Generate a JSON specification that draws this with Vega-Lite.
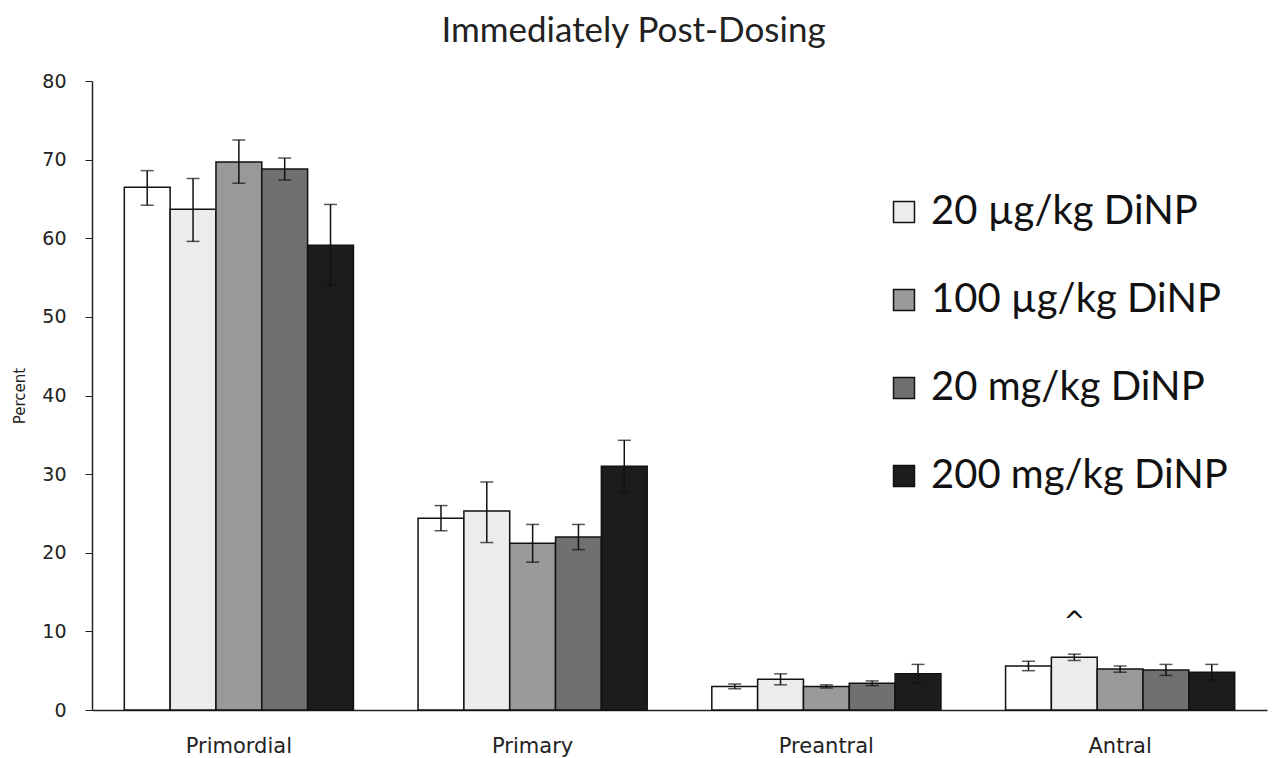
{
  "$schema": "https://vega.github.io/schema/vega-lite/v6.json",
  "width": 1175,
  "height": 629,
  "autosize": {"type": "none"},
  "padding": {"left": 92, "top": 81, "right": 5, "bottom": 48},
  "background": "white",
  "title": {"text": "Immediately Post-Dosing", "font": "Lato", "fontSize": 35, "fontWeight": "normal", "color": "#222", "anchor": "middle", "dx": -46, "offset": 23},
  "config": {"view": {"stroke": null}},
  "data": {"values": [
    {"category": "Primordial", "group": "Control", "value": 66.5, "low": 64.2, "high": 68.6},
    {"category": "Primordial", "group": "20 µg/kg DiNP", "value": 63.7, "low": 59.6, "high": 67.6},
    {"category": "Primordial", "group": "100 µg/kg DiNP", "value": 69.7, "low": 67.0, "high": 72.5},
    {"category": "Primordial", "group": "20 mg/kg DiNP", "value": 68.8, "low": 67.4, "high": 70.2},
    {"category": "Primordial", "group": "200 mg/kg DiNP", "value": 59.1, "low": 54.0, "high": 64.3},
    {"category": "Primary", "group": "Control", "value": 24.4, "low": 22.8, "high": 26.0},
    {"category": "Primary", "group": "20 µg/kg DiNP", "value": 25.3, "low": 21.3, "high": 29.0},
    {"category": "Primary", "group": "100 µg/kg DiNP", "value": 21.2, "low": 18.8, "high": 23.6},
    {"category": "Primary", "group": "20 mg/kg DiNP", "value": 22.0, "low": 20.4, "high": 23.6},
    {"category": "Primary", "group": "200 mg/kg DiNP", "value": 31.0, "low": 27.7, "high": 34.3},
    {"category": "Preantral", "group": "Control", "value": 3.0, "low": 2.7, "high": 3.3},
    {"category": "Preantral", "group": "20 µg/kg DiNP", "value": 3.9, "low": 3.2, "high": 4.6},
    {"category": "Preantral", "group": "100 µg/kg DiNP", "value": 3.0, "low": 2.8, "high": 3.2},
    {"category": "Preantral", "group": "20 mg/kg DiNP", "value": 3.4, "low": 3.1, "high": 3.7},
    {"category": "Preantral", "group": "200 mg/kg DiNP", "value": 4.6, "low": 3.4, "high": 5.8},
    {"category": "Antral", "group": "Control", "value": 5.6, "low": 5.0, "high": 6.2},
    {"category": "Antral", "group": "20 µg/kg DiNP", "value": 6.7, "low": 6.3, "high": 7.1},
    {"category": "Antral", "group": "100 µg/kg DiNP", "value": 5.2, "low": 4.8, "high": 5.6},
    {"category": "Antral", "group": "20 mg/kg DiNP", "value": 5.1, "low": 4.4, "high": 5.8},
    {"category": "Antral", "group": "200 mg/kg DiNP", "value": 4.8, "low": 3.8, "high": 5.8}
  ]},
  "encoding": {
    "x": {"field": "category", "type": "nominal", "sort": ["Primordial", "Primary", "Preantral", "Antral"],
      "scale": {"paddingInner": 0.22, "paddingOuter": 0.11},
      "axis": {"title": null, "labelAngle": 0, "ticks": false, "labelFont": "DejaVu Sans", "labelFontSize": 21, "labelColor": "#222", "labelPadding": 25, "domainColor": "#222", "domainWidth": 1.5}},
    "xOffset": {"field": "group", "type": "nominal", "sort": ["Control", "20 µg/kg DiNP", "100 µg/kg DiNP", "20 mg/kg DiNP", "200 mg/kg DiNP"], "scale": {"paddingInner": 0, "paddingOuter": 0}}
  },
  "layer": [
    {
      "mark": {"type": "bar", "stroke": "#111", "strokeWidth": 1.5},
      "encoding": {
        "y": {"field": "value", "type": "quantitative", "scale": {"domain": [0, 80]},
          "axis": {"title": "Percent", "titleFont": "DejaVu Sans", "titleFontSize": 15, "titleFontWeight": "normal", "titleColor": "#222", "titlePadding": 14, "values": [0, 10, 20, 30, 40, 50, 60, 70, 80], "grid": false, "labelFont": "DejaVu Sans", "labelFontSize": 19, "labelColor": "#222", "labelPadding": 19, "tickSize": 7, "tickColor": "#222", "domainColor": "#222", "domainWidth": 1.5}},
        "fill": {"field": "group", "type": "nominal",
          "scale": {"domain": ["Control", "20 µg/kg DiNP", "100 µg/kg DiNP", "20 mg/kg DiNP", "200 mg/kg DiNP"], "range": ["#ffffff", "#ececec", "#999999", "#707070", "#1c1c1c"]},
          "legend": {"title": null, "values": ["20 µg/kg DiNP", "100 µg/kg DiNP", "20 mg/kg DiNP", "200 mg/kg DiNP"], "orient": "none", "legendX": 792, "legendY": 111, "symbolType": "square", "symbolSize": 440, "symbolStrokeColor": "#111", "symbolStrokeWidth": 1.5, "labelFont": "Lato", "labelFontSize": 40, "labelColor": "#111", "labelOffset": 7, "rowPadding": 48, "labelLimit": 500}}
      }
    },
    {
      "mark": {"type": "rule", "color": "#111", "strokeWidth": 1.5},
      "encoding": {"y": {"field": "low", "type": "quantitative"}, "y2": {"field": "high"}}
    },
    {
      "mark": {"type": "tick", "color": "#111", "size": 13, "thickness": 1.5, "orient": "horizontal"},
      "encoding": {"y": {"field": "low", "type": "quantitative"}}
    },
    {
      "mark": {"type": "tick", "color": "#111", "size": 13, "thickness": 1.5, "orient": "horizontal"},
      "encoding": {"y": {"field": "high", "type": "quantitative"}}
    },
    {
      "data": {"values": [{"category": "Antral", "group": "20 µg/kg DiNP", "y": 11.2, "label": "^"}]},
      "mark": {"type": "text", "font": "DejaVu Sans", "fontSize": 26, "color": "#111", "baseline": "middle"},
      "encoding": {"y": {"field": "y", "type": "quantitative"}, "text": {"field": "label"}}
    }
  ]
}
